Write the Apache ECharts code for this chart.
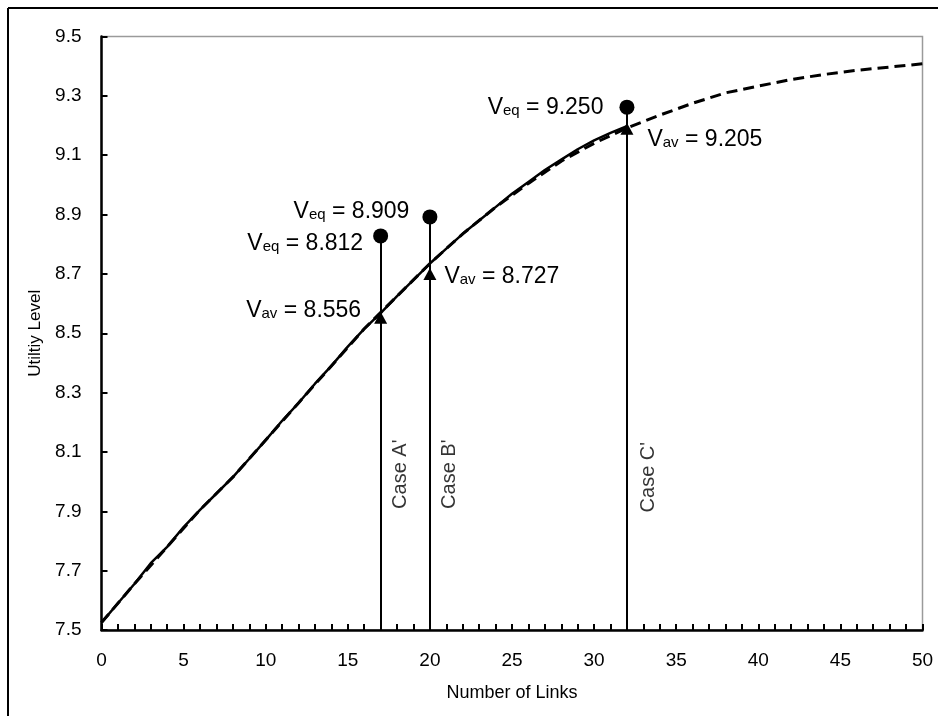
<!DOCTYPE html>
<html>
<head>
<meta charset="utf-8">
<script src="https://cdn.jsdelivr.net/npm/echarts@6/dist/echarts.min.js"></script>
<style>
html,body{margin:0;padding:0;background:#fff;}
#chart{width:938px;height:716px;}
</style>
</head>
<body>
<div id="chart"></div>
<script>
// ---- data ----
var solidX = [0,1,2,3,4,5,6,7,8,9,10,11,12,13,14,15,16,17,18,19,20,21,22,23,24,25,26,27,28,29,30,31,32];
var solidY = [7.525,7.59,7.655,7.725,7.78,7.847,7.905,7.96,8.015,8.077,8.14,8.205,8.265,8.33,8.39,8.455,8.515,8.568,8.625,8.68,8.735,8.785,8.835,8.88,8.925,8.97,9.01,9.05,9.085,9.12,9.15,9.175,9.198];
var dashX = [0,2,4,6,8,10,12,14,16,18,20,22,24,26,28,30,32,34,36,38,40,42,44,46,48,50];
var dashY = [7.525,7.655,7.78,7.905,8.015,8.14,8.265,8.39,8.515,8.625,8.735,8.835,8.925,9.005,9.08,9.14,9.192,9.235,9.275,9.31,9.333,9.355,9.372,9.386,9.397,9.408];
var caseX = [17,20,32];
var eqY = [8.828,8.892,9.262];
var avY = [8.552,8.700,9.189];
var eqText = ['8.812','8.909','9.250'];
var avText = ['8.556','8.727','9.205'];
var caseNames = ["Case A'","Case B'","Case C'"];
var caseLabelX = [18.2,21.2,33.3];
var caseLabelY = [8.025,8.025,8.015];
var yTicks = [7.5,9.5,0.2];
var xTicks = [0,50,5];

// ---- build ----
function pairs(xs, ys){ return xs.map(function(x,i){return [x, ys[i]];}); }
var font = 'Liberation Sans, Arial, sans-serif';
var rich = {
  v:{fontSize:23,fontFamily:font,color:'#000',lineHeight:26},
  s:{fontSize:15,fontFamily:font,color:'#000',lineHeight:20,verticalAlign:'middle',padding:[6,0,0,0]}
};
var eqLabelCfg = [
  {position:'left',distance:10,offset:[0,8]},
  {position:'left',distance:13,offset:[0,-5]},
  {position:'left',distance:16,offset:[0,1]}
];
var avLabelCfg = [
  {position:'left',distance:13,offset:[0,-7]},
  {position:'right',distance:8,offset:[0,3]},
  {position:'right',distance:14,offset:[0,11]}
];
var eqData = caseX.map(function(x,i){
  var c = eqLabelCfg[i];
  return {value:[x,eqY[i]], label:{show:true,position:c.position,distance:c.distance,offset:c.offset,
    formatter:'{v|V}{s|eq}{v| = '+eqText[i]+'}', rich:rich}};
});
var avData = caseX.map(function(x,i){
  var c = avLabelCfg[i];
  return {value:[x,avY[i]], label:{show:true,position:c.position,distance:c.distance,offset:c.offset,
    formatter:'{v|V}{s|av}{v| = '+avText[i]+'}', rich:rich}};
});
var stemLines = caseX.map(function(x,i){
  return [{coord:[x,yTicks[0]]},{coord:[x,eqY[i]]}];
});
var caseData = caseNames.map(function(n,i){
  return {value:[caseLabelX[i],caseLabelY[i]], name:n};
});

var chart = echarts.init(document.getElementById('chart'), null, {renderer:'canvas'});
chart.setOption({
  animation:false,
  backgroundColor:'#fff',
  grid:{left:101.5,right:15.5,top:36.5,bottom:86,show:true,borderColor:'#9a9a9a',borderWidth:1.5,backgroundColor:'transparent'},
  xAxis:{
    type:'value',min:xTicks[0],max:xTicks[1],interval:xTicks[2],
    name:'Number of Links',nameLocation:'middle',nameGap:54,
    nameTextStyle:{fontSize:18,fontFamily:font,color:'#000'},
    axisLine:{onZero:false,lineStyle:{color:'#000',width:2.5}},
    axisTick:{inside:true,length:6,lineStyle:{color:'#000',width:2}},
    minorTick:{show:true,splitNumber:5,length:6,lineStyle:{color:'#000',width:2}},
    axisLabel:{fontSize:19,fontFamily:font,color:'#000',margin:21},
    splitLine:{show:false},minorSplitLine:{show:false}
  },
  yAxis:{
    type:'value',min:yTicks[0],max:yTicks[1],interval:yTicks[2],
    name:'Utiltiy Level',nameLocation:'middle',nameGap:55,nameRotate:90,
    nameTextStyle:{fontSize:17,fontFamily:font,color:'#000'},
    axisLine:{show:true,onZero:false,lineStyle:{color:'#000',width:2.5}},
    axisTick:{show:true,inside:true,length:6,lineStyle:{color:'#000',width:2}},
    axisLabel:{fontSize:19,fontFamily:font,color:'#000',margin:20,formatter:function(v){return v.toFixed(1);}},
    splitLine:{show:false}
  },
  graphic:[
    {type:'line',shape:{x1:8,y1:8,x2:938,y2:8},style:{stroke:'#000',lineWidth:2},silent:true},
    {type:'line',shape:{x1:8,y1:8,x2:8,y2:716},style:{stroke:'#000',lineWidth:2},silent:true}
  ],
  series:[
    {name:'dashed',type:'line',data:pairs(dashX,dashY),showSymbol:false,symbol:'none',
     lineStyle:{color:'#000',width:3,type:[11,6]},z:3},
    {name:'solid',type:'line',data:pairs(solidX,solidY),showSymbol:false,symbol:'none',
     lineStyle:{color:'#000',width:2.5},z:4},
    {name:'eq',type:'scatter',data:eqData,symbol:'circle',symbolSize:15,itemStyle:{color:'#000',opacity:1},z:6,
     markLine:{silent:true,symbol:'none',label:{show:false},lineStyle:{color:'#000',width:2,type:'solid'},data:stemLines}},
    {name:'av',type:'scatter',data:avData,symbol:'triangle',symbolSize:[13,12],itemStyle:{color:'#000',opacity:1},z:6},
    {name:'cases',type:'scatter',data:caseData,symbolSize:0,z:6,
     label:{show:true,position:'inside',rotate:90,formatter:'{b}',fontSize:20,fontFamily:font,color:'#000'}}
  ]
});
</script>
</body>
</html>
